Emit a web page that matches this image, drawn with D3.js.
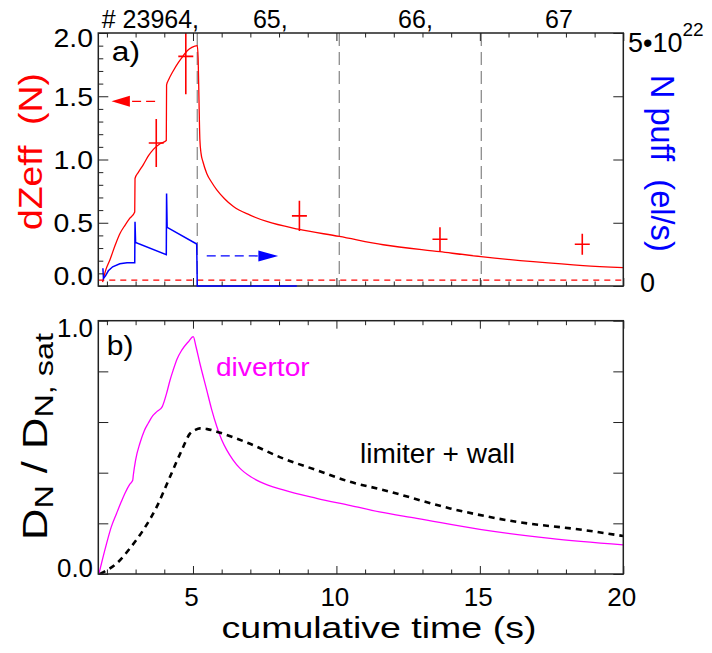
<!DOCTYPE html>
<html><head><meta charset="utf-8">
<script src="https://cdn.jsdelivr.net/npm/d3@7"></script>
<style>html,body{margin:0;padding:0;background:#fff}</style>
</head><body>
<svg id="c" width="712" height="653"></svg>
<script>
// ---------- data ----------
// panel a) : model dZeff (N) curve
const redT = [1.85,1.95,2.11,2.3,2.46,2.63,2.8,2.97,2.98,3.1,3.27,3.45,3.62,3.85,4.07,4.08,4.15,4.31,4.5,4.66,4.8,4.96,5.15,5.18,5.21,5.24,5.28,5.35,5.48,5.65,5.83,6.1,6.41,6.99,7.57,8.67,10.1,11.63,13.61,15.04,16.86,18.6,20];
const redV = [0.03,0.12,0.21,0.33,0.417,0.48,0.536,0.585,0.85,0.9,0.96,1.03,1.08,1.125,1.15,1.59,1.63,1.70,1.77,1.82,1.86,1.886,1.90,1.80,1.47,1.16,1.05,0.98,0.89,0.82,0.76,0.69,0.628,0.56,0.51,0.449,0.392,0.326,0.271,0.232,0.192,0.161,0.145];
// measured dZeff (N) points with error bars
const ptT   = [3.72, 4.75, 8.71, 13.61, 18.57];
const ptV   = [1.13, 1.815, 0.554, 0.37, 0.33];
const ptErr = [0.19, 0.30, 0.12, 0.095, 0.083];
// N puff (1e22 el/s)
const blueT = [1.86,1.88,1.95,2.05,2.2,2.45,2.7,2.97,2.98,3.0,4.07,4.08,4.10,5.13,5.15,8.62];
const blueV = [0.35,0.15,0.2,0.3,0.38,0.44,0.46,0.46,1.27,0.86,0.62,1.83,1.16,0.83,0,0];
const zeroLineV = 0.047;
// shots
const shotBounds = [5.15, 10.1, 15.05];
const shotLabels = ["# 23964,", "65,", "66,", "67"];
const shotLabelT = [1.82, 7.09, 12.15, 17.27];
// panel b)
const magT = [1.72,1.85,1.99,2.15,2.34,2.5,2.63,2.8,2.9,2.92,3.0,3.15,3.3,3.44,3.6,3.74,3.93,4.08,4.2,4.31,4.45,4.61,4.84,5.01,5.1,5.24,5.48,5.65,5.83,6.0,6.18,6.4,6.64,7.0,7.34,8.15,9.31,10.5,11.5,12.8,15.0,17.45,20];
const magV = [0,0.06,0.121,0.185,0.24,0.285,0.319,0.355,0.37,0.39,0.45,0.516,0.565,0.595,0.625,0.641,0.661,0.713,0.765,0.805,0.85,0.884,0.917,0.937,0.9,0.832,0.726,0.65,0.582,0.53,0.489,0.45,0.417,0.385,0.364,0.332,0.299,0.27,0.245,0.22,0.176,0.141,0.115];
const blkT = [1.76,2.0,2.34,2.8,3.27,3.74,4.2,4.61,4.9,5.07,5.24,5.5,5.83,6.4,6.99,8.15,9.31,10.47,11.63,13.96,16.28,18.6,20];
const blkV = [0,0.015,0.042,0.101,0.174,0.266,0.384,0.489,0.555,0.568,0.575,0.572,0.562,0.54,0.514,0.456,0.41,0.364,0.332,0.259,0.206,0.174,0.15];
// ticks
const xMajor = [5,10,15,20];
const xMinor = d3.range(2,21).filter(d=>d%5!==0);
const yaMajor = [0,0.5,1,1.5,2];
const yaMinor = d3.range(1,20).map(d=>d/10).filter(d=>Math.round(d*10)%5!==0);
const yrTicks = [0,1.25,2.5,3.75,5];
const ybTicks = [0,0.2,0.4,0.6,0.8,1.0];
const ybLabels = [0,1];

// ---------- layout ----------
const FONT = "'Liberation Sans', Arial, Helvetica, sans-serif";
const L=98.3, R=623.3, T1=33, B1=286, T2=320.7, B2=574;
const svg = d3.select('#c');
const x  = d3.scaleLinear().domain([1.7,20]).range([L,R]);
const yA = d3.scaleLinear().domain([0,2]).range([B1,T1]);
const yR = d3.scaleLinear().domain([0,5]).range([B1,T1]);
const yB = d3.scaleLinear().domain([0,1]).range([B2,T2]);

const defs = svg.append('defs');
defs.append('clipPath').attr('id','clipA').append('rect').attr('x',L).attr('y',T1).attr('width',R-L).attr('height',B1-T1);
defs.append('clipPath').attr('id','clipB').append('rect').attr('x',L).attr('y',T2).attr('width',R-L).attr('height',B2-T2);

function fitText(parent, o){
  const g = parent.append('g');
  const t = g.append('text').attr('font-size', o.size).attr('fill', o.fill||'#000').attr('font-family', FONT);
  o.build(t);
  const bb = t.node().getBBox();
  const k = o.len ? o.len/bb.width : 1;
  const anchor = o.anchor||'middle';
  const ax = anchor==='middle' ? bb.x+bb.width/2 : anchor==='start' ? bb.x : bb.x+bb.width;
  g.attr('transform', `translate(${o.x},${o.y}) rotate(${o.rot||0}) scale(${k},1) translate(${-ax},0)`);
  return g;
}

function tickAxis(axisFn, scale, values, size, tr, fmt, pad, fs){
  const a = axisFn(scale).tickValues(values).tickSizeInner(-size).tickSizeOuter(0)
     .tickFormat(fmt||'').tickPadding(pad||3);
  const g = svg.append('g').attr('transform', tr).call(a);
  g.select('.domain').remove();
  g.selectAll('line').attr('stroke','#222').attr('stroke-width',1);
  g.attr('font-family', FONT).attr('font-size', fs||26);
  g.selectAll('text').attr('fill','#000');
  return g;
}

// ---------- panel a ----------
const gA = svg.append('g').attr('clip-path','url(#clipA)');
gA.selectAll('line.shot').data(shotBounds).join('line')
  .attr('x1',d=>x(d)).attr('x2',d=>x(d)).attr('y1',T1).attr('y2',B1)
  .attr('stroke','#8c8c8c').attr('stroke-width',1.3).attr('stroke-dasharray','13,6');
gA.append('line').attr('x1',L).attr('x2',R).attr('y1',yA(zeroLineV)).attr('y2',yA(zeroLineV))
  .attr('stroke','#ff0000').attr('stroke-width',1.2).attr('stroke-dasharray','6,5');
gA.append('path').datum(redT.map((t,i)=>[t,redV[i]]))
  .attr('d', d3.line().curve(d3.curveMonotoneX).x(d=>x(d[0])).y(d=>yA(d[1])))
  .attr('fill','none').attr('stroke','#ff0000').attr('stroke-width',1.3);
const pts = ptT.map((t,i)=>({t, v:ptV[i], e:ptErr[i]}));
gA.selectAll('line.ev').data(pts).join('line')
  .attr('x1',d=>x(d.t)).attr('x2',d=>x(d.t)).attr('y1',d=>yA(d.v-d.e)).attr('y2',d=>yA(d.v+d.e))
  .attr('stroke','#ff0000').attr('stroke-width',1.6);
gA.selectAll('line.eh').data(pts).join('line')
  .attr('x1',d=>x(d.t)-7.5).attr('x2',d=>x(d.t)+7.5).attr('y1',d=>yA(d.v)).attr('y2',d=>yA(d.v))
  .attr('stroke','#ff0000').attr('stroke-width',1.6);

function arrow(x0, xTip, xBase, yy, color){
  svg.append('line').attr('x1',x0).attr('x2',xBase).attr('y1',yy).attr('y2',yy)
    .attr('stroke',color).attr('stroke-width',1.3).attr('stroke-dasharray','9,5');
  svg.append('path').attr('d',`M${xTip},${yy} L${xBase},${yy-5.5} L${xBase},${yy+5.5} Z`).attr('fill',color);
}
arrow(x(3.68), x(2.16), x(2.80), yA(1.46), '#ff0000');
arrow(x(5.48), x(7.97), x(7.28), yR(0.594), '#0000ff');

svg.append('rect').attr('x',L).attr('y',T1).attr('width',R-L).attr('height',B1-T1)
  .attr('fill','none').attr('stroke','#222').attr('stroke-width',1.5);
// blue N puff drawn over the frame (runs along the bottom axis after the last puff)
svg.append('path').datum(blueT.map((t,i)=>[t,blueV[i]]))
  .attr('d', d3.line().x(d=>x(d[0])).y(d=>yR(d[1])))
  .attr('fill','none').attr('stroke','#0000ff').attr('stroke-width',1.5);

tickAxis(d3.axisBottom, x, xMajor, 8, `translate(0,${B1})`);
tickAxis(d3.axisBottom, x, xMinor, 4.5, `translate(0,${B1})`);
tickAxis(d3.axisTop, x, xMajor, 8, `translate(0,${T1})`);
tickAxis(d3.axisTop, x, xMinor, 4.5, `translate(0,${T1})`);
const yaAx = tickAxis(d3.axisLeft, yA, yaMajor, 10, `translate(${L},0)`, d3.format('.1f'), 5.3, 26);
tickAxis(d3.axisLeft, yA, yaMinor, 5, `translate(${L},0)`);
tickAxis(d3.axisRight, yR, yrTicks, 10, `translate(${R},0)`);
yaAx.selectAll('text').attr('dy', d => d===2 ? '0.52em' : d===0 ? '-0.05em' : '0.34em')
  .attr('textLength', 39.5).attr('lengthAdjust','spacingAndGlyphs');

fitText(svg,{x:640,y:292,size:27,anchor:'start',build:t=>t.text('0')});
fitText(svg,{x:628,y:51.5,size:27,anchor:'start',build:t=>{
  t.append('tspan').text('5\u202210');
  t.append('tspan').attr('font-size',19).attr('dy',-16).text('22');
}});
shotLabels.forEach((s,i)=>{
  fitText(svg,{x:x(shotLabelT[i]),y:28,size:25,anchor:'start',build:t=>t.text(s)});
});
fitText(svg,{x:42,y:151.5,rot:-90,size:33,len:157,fill:'#ff0000',build:t=>t.text('dZeff\u00a0\u00a0(N)')});
fitText(svg,{x:651,y:163.3,rot:90,size:32.5,len:177,fill:'#0000ff',build:t=>t.text('N puff\u00a0\u00a0(el/s)')});
fitText(svg,{x:111.7,y:61,size:28,len:28.3,anchor:'start',build:t=>t.text('a)')});

// ---------- panel b ----------
const gB = svg.append('g').attr('clip-path','url(#clipB)');
gB.append('path').datum(magT.map((t,i)=>[t,magV[i]]))
  .attr('d', d3.line().curve(d3.curveMonotoneX).x(d=>x(d[0])).y(d=>yB(d[1])))
  .attr('fill','none').attr('stroke','#ff00ff').attr('stroke-width',1.3);
gB.append('path').datum(blkT.map((t,i)=>[t,blkV[i]]))
  .attr('d', d3.line().curve(d3.curveMonotoneX).x(d=>x(d[0])).y(d=>yB(d[1])))
  .attr('fill','none').attr('stroke','#000').attr('stroke-width',2.6).attr('stroke-dasharray','6,5');

svg.append('rect').attr('x',L).attr('y',T2).attr('width',R-L).attr('height',B2-T2)
  .attr('fill','none').attr('stroke','#222').attr('stroke-width',1.5);
const xbAx = tickAxis(d3.axisBottom, x, xMajor, 8, `translate(0,${B2})`, d3.format('d'), 13.5, 26);
tickAxis(d3.axisBottom, x, xMinor, 4.5, `translate(0,${B2})`);
tickAxis(d3.axisTop, x, xMajor, 8, `translate(0,${T2})`);
tickAxis(d3.axisTop, x, xMinor, 4.5, `translate(0,${T2})`);
tickAxis(d3.axisLeft, yB, ybTicks, 10, `translate(${L},0)`);
tickAxis(d3.axisRight, yB, ybTicks, 10, `translate(${R},0)`);
const ybAx = tickAxis(d3.axisLeft, yB, ybLabels, 0, `translate(${L},0)`, d3.format('.1f'), 5.3, 26);
ybAx.selectAll('text').attr('dy', d => d===1 ? '0.6em' : '0.09em')
  .attr('textLength', 36).attr('lengthAdjust','spacingAndGlyphs');
xbAx.selectAll('text').attr('dx','-0.08em');

fitText(svg,{x:106.7,y:355,size:28,len:26.7,anchor:'start',build:t=>t.text('b)')});
fitText(svg,{x:216,y:376,size:26,len:94,anchor:'start',fill:'#ff00ff',build:t=>t.text('divertor')});
fitText(svg,{x:360,y:463,size:27,len:155,anchor:'start',build:t=>t.text('limiter + wall')});
fitText(svg,{x:379,y:638,size:30,len:315,build:t=>t.text('cumulative time (s)')});
fitText(svg,{x:46.7,y:436,rot:-90,size:35,len:208,build:t=>{
  t.append('tspan').text('D');
  t.append('tspan').attr('font-size',26).attr('dy',6).text('N');
  t.append('tspan').attr('dy',-6).text('\u00a0/\u00a0');
  t.append('tspan').text('D');
  t.append('tspan').attr('font-size',26).attr('dy',6).text('N, sat');
}});
</script>
</body></html>
